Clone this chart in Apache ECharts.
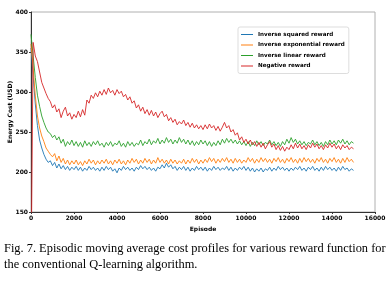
<!DOCTYPE html>
<html>
<head>
<meta charset="utf-8">
<script src="https://cdn.jsdelivr.net/npm/echarts@6/dist/echarts.min.js"></script>
<style>
  html, body { margin: 0; padding: 0; background: #fff; }
  #chart { width: 389px; height: 281px; }
</style>
</head>
<body>
<div id="chart"></div>
<script>
// Moving average cost, one value every EPISODE_STEP episodes (0 .. 15000)
const EPISODE_STEP = 100;
const X_TICKS = [0, 2000, 4000, 6000, 8000, 10000, 12000, 14000, 16000];
const Y_TICKS = [150, 200, 250, 300, 350, 400];

const inverseSquared = [
  355, 320, 285, 258, 240, 230, 222, 216, 212, 214, 208, 212, 205, 210, 204, 208, 203, 207, 202, 206,
  203, 207, 202, 206, 201, 205, 202, 207, 203, 206, 202, 205, 201, 206, 202, 207, 203, 206, 201, 204,
  199, 205, 202, 207, 203, 206, 202, 205, 201, 206, 203, 208, 204, 207, 203, 206, 202, 205, 201, 206,
  204, 209, 205, 211, 206, 209, 204, 207, 202, 206, 203, 207, 202, 206, 201, 205, 202, 207, 203, 206,
  202, 206, 201, 205, 202, 207, 203, 206, 202, 205, 203, 207, 202, 206, 201, 205, 202, 206, 203, 207,
  202, 206, 201, 205, 200, 204, 201, 205, 200, 204, 202, 206, 201, 205, 202, 207, 203, 206, 202, 205,
  201, 205, 202, 206, 203, 207, 202, 205, 201, 206, 203, 207, 202, 205, 201, 206, 202, 207, 203, 206,
  202, 205, 201, 206, 202, 207, 203, 205, 201, 204, 202
];

const inverseExponential = [
  360, 330, 295, 270, 255, 245, 238, 230, 226, 222, 219, 223, 214, 220, 212, 217, 210, 215, 209, 214,
  210, 215, 209, 213, 208, 214, 210, 216, 211, 215, 209, 214, 210, 215, 211, 216, 210, 214, 209, 215,
  211, 216, 210, 214, 209, 215, 211, 217, 212, 216, 210, 215, 211, 217, 212, 216, 210, 215, 211, 218,
  212, 216, 211, 215, 210, 216, 211, 215, 210, 214, 211, 216, 210, 215, 211, 217, 212, 216, 210, 215,
  211, 216, 212, 218, 213, 217, 211, 216, 212, 217, 213, 218, 212, 216, 211, 217, 212, 216, 211, 215,
  212, 218, 213, 217, 211, 216, 212, 218, 213, 217, 212, 216, 211, 217, 213, 218, 212, 216, 211, 217,
  213, 218, 212, 216, 211, 217, 212, 218, 213, 217, 212, 216, 211, 217, 213, 218, 212, 216, 211, 217,
  213, 218, 212, 216, 211, 217, 212, 218, 213, 216, 212
];

const inverseLinear = [
  372, 345, 318, 296, 282, 270, 262, 255, 250, 248, 243, 246, 240, 244, 236, 241, 232, 238, 234, 240,
  233, 238, 232, 237, 231, 239, 233, 237, 232, 238, 234, 239, 233, 236, 231, 237, 233, 238, 232, 236,
  234, 239, 232, 236, 231, 238, 233, 237, 232, 236, 234, 240, 233, 238, 235, 241, 234, 239, 236, 242,
  235, 240, 236, 243, 237, 241, 235, 240, 236, 243, 237, 241, 235, 240, 234, 239, 233, 238, 234, 240,
  235, 239, 233, 238, 232, 237, 233, 239, 234, 241, 236, 242, 237, 241, 236, 240, 235, 239, 234, 238,
  233, 238, 232, 237, 233, 239, 234, 238, 233, 237, 235, 240, 234, 238, 233, 237, 232, 238, 234, 241,
  236, 243, 237, 241, 235, 239, 234, 238, 233, 237, 235, 240, 234, 238, 233, 237, 232, 238, 234, 240,
  235, 239, 234, 240, 236, 241, 235, 239, 234, 238, 236
];

const negative = [
  60, 362, 345, 338, 325, 312, 305, 298, 292, 288, 280, 284, 275, 279, 268, 276, 281, 270, 274, 266,
  272, 268, 276, 269, 278, 271, 290, 286, 296, 292, 299, 294, 301, 296, 303, 297, 305, 299, 302, 296,
  303, 298, 301, 294, 297, 290, 294, 286, 289, 280, 284, 276, 281, 273, 278, 271, 277, 270, 275, 268,
  273, 276, 269, 272, 264, 268, 262, 266, 259, 263, 260, 265, 258, 262, 256, 261, 255, 259, 254, 258,
  253, 259, 254, 260, 255, 258, 252, 257, 251, 256, 262, 255, 258, 250, 253, 246, 249, 240, 244, 237,
  241, 235, 240, 234, 238, 232, 237, 231, 236, 229, 234, 238, 231, 235, 228, 233, 227, 232, 226, 231,
  228, 234, 229, 236, 230, 235, 229, 233, 228, 234, 230, 236, 231, 235, 229, 233, 228, 234, 230, 236,
  231, 235, 229, 233, 228, 234, 230, 233, 228, 231, 229
];

const SERIES = [
  { name: 'Inverse squared reward', values: inverseSquared, color: '#1f77b4' },
  { name: 'Inverse exponential reward', values: inverseExponential, color: '#ff7f0e' },
  { name: 'Inverse linear reward', values: inverseLinear, color: '#2ca02c' },
  { name: 'Negative reward', values: negative, color: '#d62728' },
];

const CAPTION = [
  'Fig. 7. Episodic moving average cost profiles for various reward function for',
  'the conventional Q-learning algorithm.',
];

const toPoints = (values) => values.map((v, i) => [i * EPISODE_STEP, v]);

const chart = echarts.init(document.getElementById('chart'), null, { renderer: 'canvas' });

const tickFont = { fontFamily: 'DejaVu Sans', fontSize: 6, fontWeight: 'bold', color: '#000' };

chart.setOption({
  animation: false,
  grid: {
    left: 31, right: 14, top: 12, bottom: 69,
    outerBoundsMode: 'none',
    containLabel: false,
    show: true, borderColor: '#b0b0b0', borderWidth: 1,
  },
  legend: {
    orient: 'vertical',
    left: 238, top: 27,
    padding: [4, 4, 4, 3],
    icon: 'rect',
    itemWidth: 12, itemHeight: 1, itemGap: 3.5,
    backgroundColor: '#fff',
    borderColor: '#ddd', borderWidth: 1, borderRadius: 2,
    textStyle: { fontFamily: 'DejaVu Sans', fontSize: 5.6, fontWeight: 'bold', color: '#000', lineHeight: 7 },
    data: SERIES.map(s => s.name),
  },
  xAxis: {
    type: 'value', min: 0, max: 16000, interval: 2000,
    name: 'Episode', nameLocation: 'middle', nameGap: 14,
    nameMoveOverlap: false,
    nameTextStyle: { fontFamily: 'DejaVu Sans', fontSize: 6, fontWeight: 'bold', color: '#000' },
    axisLine: { lineStyle: { color: '#333', width: 1 } },
    axisTick: { show: true, length: 2, lineStyle: { color: '#333' } },
    axisLabel: Object.assign({ margin: 3, formatter: v => X_TICKS.includes(v) ? String(v) : '' }, tickFont),
    splitLine: { show: false },
  },
  yAxis: {
    type: 'value', min: 150, max: 400, interval: 50,
    name: 'Energy Cost (USD)', nameLocation: 'middle', nameGap: 18,
    nameMoveOverlap: false,
    nameTextStyle: { fontFamily: 'DejaVu Sans', fontSize: 6, fontWeight: 'bold', color: '#000' },
    axisLine: { show: true, lineStyle: { color: '#333', width: 1 } },
    axisTick: { show: true, length: 2, lineStyle: { color: '#333' } },
    axisLabel: Object.assign({ margin: 3, formatter: v => Y_TICKS.includes(v) ? String(v) : '' }, tickFont),
    splitLine: { show: false },
  },
  series: SERIES.map(s => ({
    name: s.name,
    type: 'line',
    data: toPoints(s.values),
    symbol: 'none',
    clip: true,
    color: s.color,
    lineStyle: { width: 0.9, color: s.color },
  })),
  graphic: CAPTION.map((line, i) => ({
    type: 'text',
    left: 4,
    top: 243 + i * 16,
    style: {
      text: line,
      font: '12.4px "Liberation Serif"',
      fill: '#000',
    },
  })),
});
</script>
</body>
</html>
